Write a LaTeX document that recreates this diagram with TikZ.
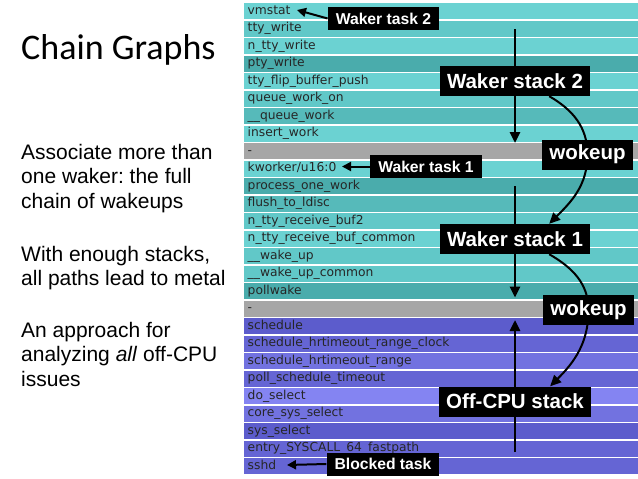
\documentclass[tikz,border=0pt]{standalone}
\usepackage{fontspec}
\setmainfont{Liberation Sans}
\newfontfamily\titlefont{Carlito}
\newfontfamily\framefont{DejaVu Sans}
\usepackage{tikz}
\usetikzlibrary{arrows.meta}
\usetikzlibrary{positioning}
\definecolor{cyanL}{HTML}{6BD2D2}
\definecolor{cyanM}{HTML}{61C8C8}
\definecolor{cyanD}{HTML}{56BABA}
\definecolor{cyanX}{HTML}{4AACAC}
\definecolor{gapgray}{HTML}{A6A6A6}
\definecolor{purL}{HTML}{8484F2}
\definecolor{purM}{HTML}{7272E0}
\definecolor{purN}{HTML}{6565D4}
\definecolor{purD}{HTML}{5C5CCC}
\tikzstyle{framebar}=[anchor=north west,minimum height=16pt,text width=387pt,inner xsep=3.5pt,inner ysep=0pt,text height=9.5pt,text depth=3.5pt,align=left,font=\framefont\fontsize{12.3}{14}\selectfont,text=black!85]
\tikzstyle{tagbig}=[fill=black,text=white,font=\bfseries\fontsize{20.5}{22}\selectfont,inner xsep=7pt,inner ysep=0pt,minimum height=30pt]
\tikzstyle{tagsmall}=[fill=black,text=white,font=\bfseries\fontsize{15.7}{17}\selectfont,inner xsep=8pt,inner ysep=0pt,minimum height=23pt]
\tikzstyle{flowline}=[line width=2.6pt,-{Triangle[width=10pt,length=11pt]}]
\tikzstyle{wakeline}=[line width=2pt,-{Triangle[width=10pt,length=11pt]}]
\tikzstyle{pointline}=[line width=2pt,-{Triangle[width=9pt,length=9pt]}]
\tikzstyle{bullet}=[anchor=base west,inner sep=0pt,align=left,font=\fontsize{21}{24.7}\selectfont]
\pgfdeclarelayer{rows}
\pgfdeclarelayer{links}
\pgfsetlayers{rows,links,main}
\frenchspacing

\begin{document}
\begin{tikzpicture}[x=1pt,y=1pt]
\useasboundingbox (0,0) rectangle (638,-479);

% left column
\node[anchor=base west,inner sep=0pt,font=\titlefont\fontsize{36}{40}\selectfont] (title) at (21,-59) {Chain Graphs};
\node[bullet] (p1) at (21,-208.4) {Associate more than\\one waker: the full\\chain of wakeups};
\node[bullet] (p2) at (21,-285.7) {With enough stacks,\\all paths lead to metal};
\node[bullet] (p3) at (21,-386.4) {An approach for\\analyzing \textit{all} off-CPU\\issues};

% chain graph frames
\begin{pgfonlayer}{rows}
\foreach \fname/\fcol [count=\i from 0] in {vmstat/cyanL, tty\_write/cyanM, n\_tty\_write/cyanL,
  pty\_write/cyanX, tty\_flip\_buffer\_push/cyanL, queue\_work\_on/cyanM, \_\_queue\_work/cyanD,
  insert\_work/cyanL, -/gapgray, {kworker/u16:0}/cyanL, process\_one\_work/cyanX,
  flush\_to\_ldisc/cyanD, n\_tty\_receive\_buf2/cyanM, n\_tty\_receive\_buf\_common/cyanL,
  \_\_wake\_up/cyanM, \_\_wake\_up\_common/cyanM, pollwake/cyanX, -/gapgray,
  schedule/purD, schedule\_hrtimeout\_range\_clock/purN, schedule\_hrtimeout\_range/purM,
  poll\_schedule\_timeout/purN, do\_select/purL, core\_sys\_select/purM, sys\_select/purD,
  entry\_SYSCALL\_64\_fastpath/purN, sshd/purN}
  \node[framebar,fill=\fcol] (r\i) at (244,-3-17.5*\i) {\fname};
\end{pgfonlayer}

% tags
\node[tagsmall] (wt2) at (383.5,-18.5) {Waker task 2};
\node[tagbig] (ws2) at (515,-81) {Waker stack 2};
\node[tagbig] (wk1) at (587.5,-154.5) {wokeup};
\node[tagsmall] (wt1) at (426,-166.5) {Waker task 1};
\node[tagbig] (ws1) at (515,-239) {Waker stack 1};
\node[tagbig] (wk2) at (588.5,-310) {wokeup};
\node[tagbig] (off) at (515,-401.5) {Off-CPU stack};
\node[tagsmall] (bt) at (383,-464) {Blocked task};

\coordinate (s2top) at (515,-29);
\coordinate (s1top) at (515,-186);
\coordinate (offbot) at (515,-452);
\coordinate (vmtip) at (297,-10);
\coordinate (kwtip) at (342,-166.5);
\coordinate (shtip) at (287,-465);

\begin{pgfonlayer}{links}
\draw[flowline] (s2top) -- (s2top |- r8.north);
\draw[flowline] (s1top) -- ([yshift=3pt]s1top |- r17.north);
\draw[flowline] (offbot) -- ([yshift=-2pt]offbot |- r18.north);
\draw[wakeline] ([xshift=-41pt]ws2.south east) to[out=-30,in=90] (wk1.center) to[out=-90,in=45] ([xshift=-41pt]ws1.north east);
\draw[wakeline] ([xshift=-41pt]ws1.south east) to[out=-30,in=90] (wk2.center) to[out=-90,in=45] ([xshift=-41pt]off.north east);
\draw[pointline] (wt2.west) -- (vmtip);
\draw[pointline] (wt1.west) -- (kwtip);
\draw[pointline] (bt.west) -- (shtip);
\end{pgfonlayer}

\end{tikzpicture}
\end{document}
